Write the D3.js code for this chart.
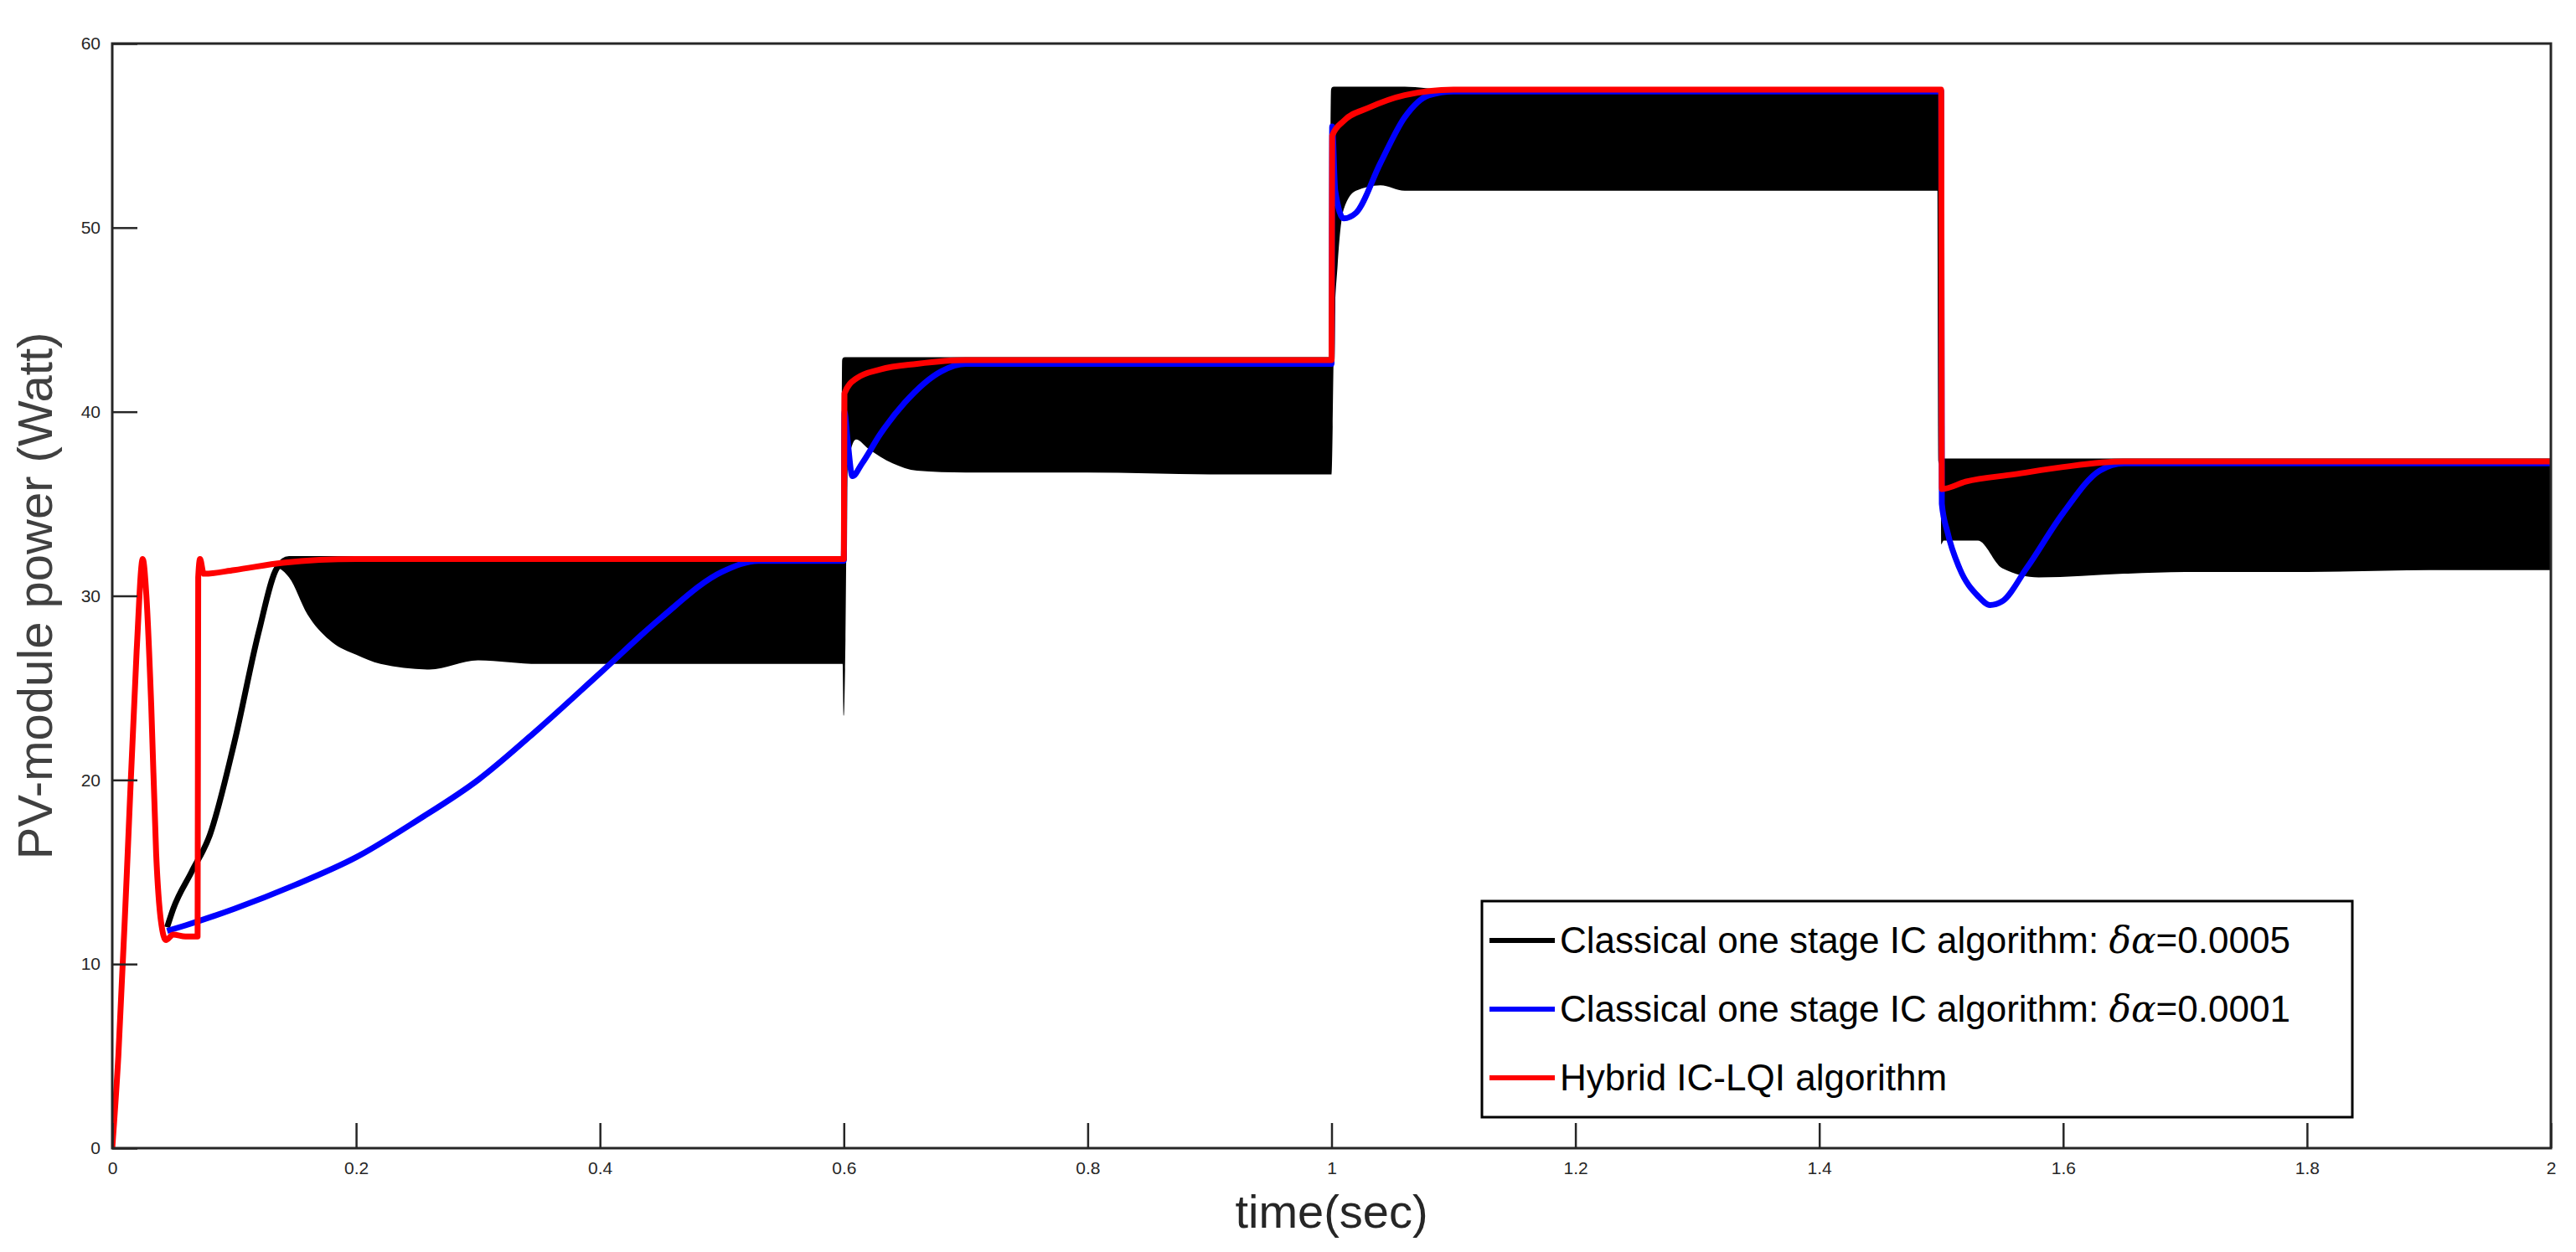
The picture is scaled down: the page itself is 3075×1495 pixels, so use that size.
<!DOCTYPE html>
<html><head><meta charset="utf-8">
<script src="https://cdn.jsdelivr.net/npm/d3@7/dist/d3.min.js"></script>
<style>body{margin:0;background:#fff}</style></head>
<body><svg id="c" width="3075" height="1495"></svg>
<script>
const xTicks=[0,0.2,0.4,0.6,0.8,1,1.2,1.4,1.6,1.8,2];
const yTicks=[0,10,20,30,40,50,60];
const seriesNames=["Classical one stage IC algorithm: δα=0.0005","Classical one stage IC algorithm: δα=0.0001","Hybrid IC-LQI algorithm"];
// black: t, upper envelope, lower envelope
const blackT=[0.045,0.05,0.065,0.08,0.1,0.12,0.135,0.145,0.16,0.18,0.2,0.22,0.26,0.3,0.35,0.4,0.5,0.599,0.6,0.601,0.603,0.61,0.62,0.64,0.66,0.7,0.8,0.9,0.998,1.0,1.002,1.005,1.01,1.02,1.04,1.06,1.1,1.2,1.3,1.4,1.499,1.5,1.502,1.52,1.53,1.55,1.58,1.65,1.7,1.8,1.9,2.0];
const blackHi=[12,13,15,17,22,28,31.5,32,32,32,32,32,32,32,32,32,32,32,32,42.8,42.8,42.8,42.8,42.8,42.8,42.8,42.8,42.8,42.8,42.8,57.5,57.5,57.5,57.5,57.5,57.5,57.3,57.3,57.3,57.3,57.3,37.3,37.3,37.3,37.3,37.3,37.3,37.3,37.3,37.3,37.3,37.3];
const blackLo=[12,13,15,17,22,28,31.5,31,29,27.5,26.8,26.3,26,26.5,26.3,26.3,26.3,26.3,23.5,26,37,38.5,38,37.2,36.8,36.7,36.7,36.6,36.6,36.6,44,48,51,52,52.3,52,52,52,52,52,52,32.8,33,33,33,31.5,31,31.2,31.3,31.3,31.4,31.4];
const blueT=[0.045,0.06,0.1,0.15,0.2,0.25,0.3,0.35,0.4,0.45,0.5,0.53,0.6,0.6005,0.603,0.607,0.615,0.63,0.65,0.68,0.7,1.0,1.0005,1.003,1.01,1.02,1.04,1.06,1.08,1.1,1.5,1.5005,1.505,1.515,1.53,1.54,1.55,1.57,1.6,1.63,1.65,2.0];
const blueV=[11.8,12.1,13,14.3,15.8,17.8,20,22.8,25.8,28.8,31.3,31.9,31.9,40,38.5,36.5,37.2,38.8,40.5,42.2,42.6,42.6,55.5,52,50.5,50.8,53.5,56,57.2,57.4,57.4,35,33.5,31.5,30,29.5,29.7,31.5,34.5,36.8,37.2,37.2];
const redT=[0,0.005,0.012,0.02,0.025,0.028,0.032,0.036,0.04,0.044,0.05,0.06,0.07,0.0705,0.072,0.075,0.1,0.14,0.2,0.6,0.6005,0.61,0.63,0.66,0.7,0.8,1.0,1.0005,1.01,1.03,1.06,1.1,1.2,1.5,1.5005,1.52,1.56,1.6,1.65,1.7,2.0];
const redV=[0,5,15,27,32,30,24,16,12.3,11.3,11.6,11.5,11.5,31,32,31.2,31.4,31.8,32,32,41,41.8,42.3,42.6,42.8,42.8,42.8,55,55.8,56.5,57.2,57.5,57.5,57.5,35.8,36.2,36.6,37,37.3,37.3,37.3];

const svg=d3.select("#c");
const L=134,R=3045,T=52,B=1371;
const x=d3.scaleLinear().domain([0,2]).range([L,R]);
const y=d3.scaleLinear().domain([0,60]).range([B,T]);
const g=svg.append("g");
g.append("clipPath").attr("id","clip").append("rect").attr("x",L).attr("y",T).attr("width",R-L).attr("height",B-T);
const plot=g.append("g").attr("clip-path","url(#clip)");
const bl=blackT.map((t,i)=>({t,hi:blackHi[i],lo:blackLo[i]}));
const cv=d3.curveMonotoneX;
plot.append("path").datum(bl).attr("fill","#000")
 .attr("d",d3.area().curve(cv).x(d=>x(d.t)).y0(d=>y(d.lo)).y1(d=>y(d.hi)));
plot.append("path").datum(bl).attr("fill","none").attr("stroke","#000").attr("stroke-width",7)
 .attr("d",d3.line().curve(cv).x(d=>x(d.t)).y(d=>y(d.hi)));
const line=d3.line().curve(cv).x(d=>x(d[0])).y(d=>y(d[1]));
plot.append("path").datum(blueT.map((t,i)=>[t,blueV[i]])).attr("fill","none").attr("stroke","#0000ff").attr("stroke-width",7).attr("stroke-linejoin","round").attr("d",line);
plot.append("path").datum(redT.map((t,i)=>[t,redV[i]])).attr("fill","none").attr("stroke","#ff0000").attr("stroke-width",7).attr("stroke-linejoin","round").attr("d",line);

// axes box
g.append("rect").attr("x",L).attr("y",T).attr("width",R-L).attr("height",B-T).attr("fill","none").attr("stroke","#262626").attr("stroke-width",3);
const xa=g.append("g").attr("transform",`translate(0,${B})`).call(d3.axisBottom(x).tickValues(xTicks).tickSizeInner(-30).tickSizeOuter(0).tickPadding(16).tickFormat(d3.format("")));
const ya=g.append("g").attr("transform",`translate(${L},0)`).call(d3.axisLeft(y).tickValues(yTicks).tickSizeInner(-30).tickSizeOuter(0).tickPadding(14));
[xa,ya].forEach(a=>{a.select(".domain").remove();a.selectAll("line").attr("stroke","#262626").attr("stroke-width",2.5);
 a.selectAll("text").attr("font-family","Liberation Sans, Arial").attr("font-size",21).attr("fill","#262626");});
g.append("text").attr("x",(L+R)/2).attr("y",1466).attr("text-anchor","middle").attr("font-family","Liberation Sans, Arial").attr("font-size",56).attr("fill","#262626").text("time(sec)");
g.append("text").attr("transform",`translate(62,${(T+B)/2}) rotate(-90)`).attr("text-anchor","middle").attr("font-family","Liberation Sans, Arial").attr("font-size",58).attr("fill","#404040").text("PV-module power (Watt)");

// legend
const lg=g.append("g");
lg.append("rect").attr("x",1769).attr("y",1076).attr("width",1039).attr("height",258).attr("fill","#fff").attr("stroke","#000").attr("stroke-width",3);
const cols=["#000","#0000ff","#ff0000"];
seriesNames.forEach((n,i)=>{const yy=1123+i*82;
 lg.append("line").attr("x1",1778).attr("x2",1856).attr("y1",yy).attr("y2",yy).attr("stroke",cols[i]).attr("stroke-width",6);
 const tx=lg.append("text").attr("x",1862).attr("y",yy+15).attr("font-family","Liberation Sans, Arial").attr("font-size",44).attr("fill","#000");
 const m=n.match(/^(.*: )(δα)(.*)$/);
 if(m){tx.append("tspan").text(m[1]);tx.append("tspan").attr("font-style","italic").attr("font-family","DejaVu Serif").text(m[2]);tx.append("tspan").text(m[3]);}
 else tx.text(n);
});
</script></body></html>
